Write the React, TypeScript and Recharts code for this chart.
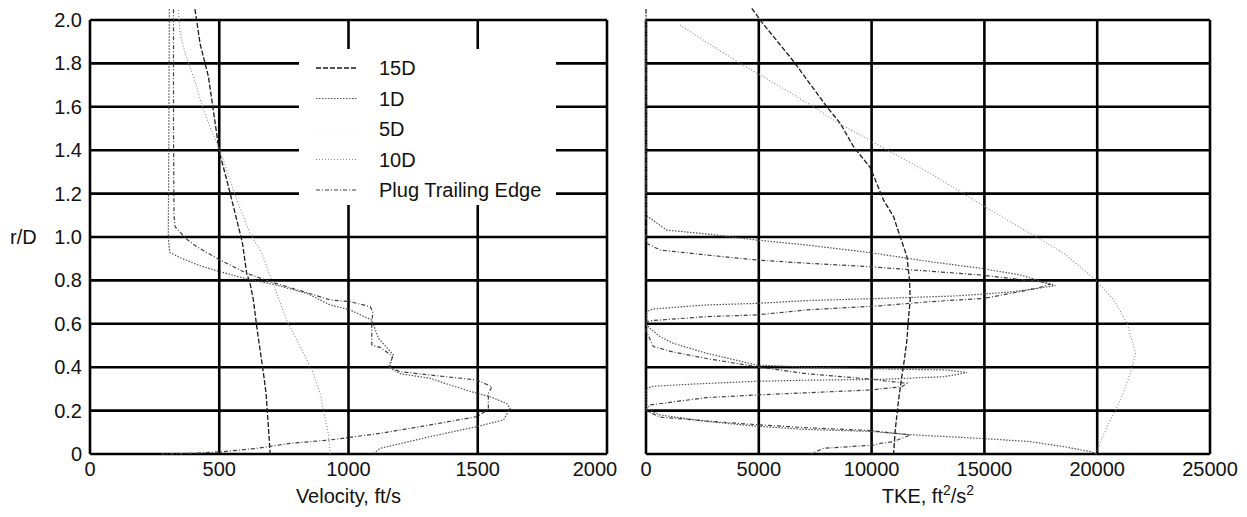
import React from 'react';
import { ScatterChart, Scatter, XAxis, YAxis, CartesianGrid, Legend, Label } from 'recharts';

// ---------- tick values ----------
const rTicks = [0, 0.2, 0.4, 0.6, 0.8, 1.0, 1.2, 1.4, 1.6, 1.8, 2.0];
const velTicks = [0, 500, 1000, 1500, 2000];
const tkeTicks = [0, 5000, 10000, 15000, 20000, 25000];

// ---------- series names ----------
const seriesNames = ['15D', '1D', '5D', '10D', 'Plug Trailing Edge'];

// ---------- Velocity profiles [velocity ft/s, r/D] ----------
const vel15D: [number, number][] = [
  [406, 2.05], [426, 1.89], [458, 1.74], [477, 1.585], [500, 1.393], [529, 1.263], [555, 1.14],
  [580, 1.02], [590, 0.97], [606, 0.833], [619, 0.787], [632, 0.71], [645, 0.587], [658, 0.479],
  [671, 0.372], [681, 0.28], [690, 0.126], [697, 0],
];
const vel10D: [number, number][] = [
  [342, 2.046], [348, 1.94], [368, 1.847], [400, 1.739], [439, 1.585], [464, 1.508], [497, 1.416],
  [516, 1.355], [568, 1.17], [619, 1.017], [665, 0.925], [703, 0.8], [722, 0.74], [761, 0.617],
  [800, 0.525], [839, 0.433], [864, 0.372], [890, 0.28], [903, 0.203], [922, 0.095], [929, 0],
];
const vel1D: [number, number][] = [
  [307, 2.05], [305, 1.5], [303, 1.0], [308, 0.93], [348, 0.905], [420, 0.87], [503, 0.84],
  [606, 0.807], [709, 0.782], [839, 0.74], [929, 0.687], [1006, 0.664], [1090, 0.617],
  [1116, 0.533], [1174, 0.456], [1155, 0.402], [1200, 0.37], [1316, 0.349], [1400, 0.315],
  [1496, 0.28], [1548, 0.264], [1612, 0.233], [1625, 0.21], [1600, 0.157], [1496, 0.126],
  [1316, 0.08], [1122, 0.026], [1096, 0],
];
const velPlug: [number, number][] = [
  [323, 2.05], [323, 1.5], [325, 1.1], [329, 1.047], [374, 0.99], [413, 0.955], [503, 0.894],
  [606, 0.833], [697, 0.794], [826, 0.748], [929, 0.71], [1006, 0.702], [1084, 0.679],
  [1094, 0.656], [1090, 0.6], [1090, 0.502], [1125, 0.49], [1170, 0.45], [1160, 0.4],
  [1200, 0.379], [1316, 0.364], [1496, 0.341], [1555, 0.31], [1541, 0.28], [1541, 0.205],
  [1496, 0.172], [1316, 0.134], [1122, 0.095], [929, 0.065], [774, 0.049], [645, 0.026],
  [516, 0.011], [400, 0.003], [270, 0],
];

// ---------- TKE profiles [TKE ft^2/s^2, r/D] ----------
const tke15D: [number, number][] = [
  [4690, 2.054], [5133, 1.99], [6537, 1.81], [8016, 1.6], [8608, 1.524], [9200, 1.416],
  [9939, 1.32], [10530, 1.17], [10973, 1.094], [11270, 1.0], [11566, 0.91], [11680, 0.8],
  [11713, 0.71], [11640, 0.633], [11566, 0.525], [11450, 0.433], [11344, 0.36], [11196, 0.249],
  [11048, 0.11], [10973, 0],
];
const tke10D: [number, number][] = [
  [1509, 1.977], [2800, 1.89], [4171, 1.8], [5946, 1.693], [7424, 1.6], [8600, 1.52],
  [9643, 1.462], [10826, 1.393], [12601, 1.293], [14080, 1.2], [15263, 1.124], [17038, 1.017],
  [18516, 0.925], [19847, 0.81], [20735, 0.71], [21327, 0.602], [21697, 0.464], [21475, 0.372],
  [21031, 0.249], [20440, 0.126], [19996, 0.018], [19950, 0],
];
const tke1D: [number, number][] = [
  [0, 2.05], [0, 1.1], [917, 1.032], [2692, 1.014], [4910, 0.986], [7130, 0.963], [9939, 0.928],
  [12601, 0.886], [14819, 0.856], [16594, 0.825], [18148, 0.776], [16298, 0.748], [14819, 0.736],
  [13636, 0.728], [10383, 0.717], [7130, 0.707], [4910, 0.694], [2692, 0.687], [300, 0.668],
  [30, 0.656], [0, 0.6], [177, 0.579], [621, 0.541], [1212, 0.51], [2692, 0.464], [4910, 0.41],
  [7130, 0.4], [9939, 0.393], [13340, 0.387], [14229, 0.375], [13193, 0.356], [10383, 0.344],
  [7130, 0.34], [4910, 0.335], [2000, 0.322], [300, 0.312], [0, 0.3], [0, 0.21], [621, 0.18],
  [2692, 0.15], [4910, 0.128], [7130, 0.113], [9939, 0.104], [11860, 0.088], [14819, 0.072],
  [17038, 0.057], [18516, 0.034], [19700, 0.011], [20000, 0],
];
const tkePlug: [number, number][] = [
  [0, 2.05], [0, 0.99], [30, 0.971], [621, 0.94], [2692, 0.917], [4910, 0.894], [7130, 0.879],
  [9939, 0.863], [14819, 0.825], [17482, 0.794], [17900, 0.782], [17334, 0.763], [14966, 0.717],
  [12601, 0.702], [10383, 0.683], [7130, 0.664], [4910, 0.641], [2692, 0.633], [300, 0.615],
  [30, 0.61], [0, 0.57], [325, 0.495], [1212, 0.47], [2692, 0.44], [4910, 0.402], [7130, 0.37],
  [9939, 0.345], [11566, 0.326], [11344, 0.31], [9939, 0.295], [4910, 0.272], [2692, 0.26],
  [177, 0.226], [0, 0.2], [621, 0.17], [2692, 0.152], [4910, 0.135], [7130, 0.121],
  [9939, 0.108], [11713, 0.088], [10973, 0.057], [10383, 0.049], [10087, 0.041], [7867, 0.026],
  [7300, 0],
];

// ---------- styles ----------
type Sty = { stroke: string; dash: string; width: number };
const styles: Record<string, Sty> = {
  '15D': { stroke: '#1a1a1a', dash: '5 2', width: 1.3 },
  '1D': { stroke: '#505050', dash: '1.5 1.5', width: 1.2 },
  '5D': { stroke: '#f2f2f2', dash: '1 3', width: 1 },
  '10D': { stroke: '#8c8c8c', dash: '1 2', width: 1.1 },
  'Plug Trailing Edge': { stroke: '#404040', dash: '4 2 1 2', width: 1.2 },
};

const FONT = '"Liberation Sans", Arial, Helvetica, sans-serif';

const toPts = (arr: [number, number][], key: string) => arr.map(([x, r]) => ({ [key]: x, r }));

const NoDot = () => <g />;

const lineProps = (name: string) => {
  const s = styles[name];
  return { stroke: s.stroke, strokeWidth: s.width, strokeDasharray: s.dash, fill: 'none' };
};

const LegendBox = () => (
  <svg width={257} height={156} style={{ display: 'block', background: '#fff' }}>
    {seriesNames.map((n, i) => {
      const y = 19 + i * 30.5;
      const s = styles[n];
      return (
        <g key={n}>
          <line x1={17} x2={59} y1={y} y2={y} stroke={s.stroke} strokeWidth={s.width} strokeDasharray={s.dash} />
          <text x={80} y={y} dominantBaseline="central" fontSize={20} fontFamily={FONT} fill="#111">
            {n}
          </text>
        </g>
      );
    })}
  </svg>
);

const VelTick = (props: any) => {
  const { x, y, payload } = props;
  const v = payload.value;
  const dx = v === 2000 ? -12 : 0;
  return (
    <text x={x + dx} y={y} dy="0.71em" textAnchor="middle" fontSize={20} fontFamily={FONT} fill="#111">
      {String(v)}
    </text>
  );
};

const TkeTick = (props: any) => {
  const { x, y, payload } = props;
  return (
    <text x={x} y={y} dy="0.71em" textAnchor="middle" fontSize={20} fontFamily={FONT} fill="#111">
      {String(payload.value)}
    </text>
  );
};

const RTick = (props: any) => {
  const { x, y, payload } = props;
  const v = payload.value as number;
  return (
    <text x={x} y={y} textAnchor="end" dominantBaseline="central" fontSize={20} fontFamily={FONT} fill="#111">
      {v === 0 ? '0' : v.toFixed(1)}
    </text>
  );
};

const RDLabel = (props: any) => {
  const vb = props.viewBox || {};
  return (
    <text x={(vb.x || 0) + 10} y={(vb.y || 0) + (vb.height || 0) / 2} dominantBaseline="central"
      fontSize={20} fontFamily={FONT} fill="#111">r/D</text>
  );
};

const TkeLabel = (props: any) => {
  const vb = props.viewBox || {};
  const cx = vb.x + vb.width / 2;
  const y = vb.y + 49;
  return (
    <text x={cx} y={y} textAnchor="middle" fontSize={20} fontFamily={FONT} fill="#111">
      TKE, ft<tspan dy={-8} fontSize={14}>2</tspan><tspan dy={8}>/s</tspan><tspan dy={-8} fontSize={14}>2</tspan>
    </text>
  );
};

const VelLabel = (props: any) => {
  const vb = props.viewBox || {};
  const cx = vb.x + vb.width / 2;
  const y = vb.y + 49;
  return (
    <text x={cx} y={y} textAnchor="middle" fontSize={20} fontFamily={FONT} fill="#111">
      Velocity, ft/s
    </text>
  );
};

const velSeries: [string, [number, number][]][] = [
  ['15D', vel15D], ['1D', vel1D], ['10D', vel10D], ['Plug Trailing Edge', velPlug],
];
const tkeSeries: [string, [number, number][]][] = [
  ['15D', tke15D], ['1D', tke1D], ['10D', tke10D], ['Plug Trailing Edge', tkePlug],
];

export default function App() {
  return (
    <div style={{ position: 'absolute', left: 0, top: 0, width: 1247, height: 517, background: '#fff', overflow: 'hidden' }}>
      <style>{'.recharts-wrapper g[clip-path]{clip-path:none !important}.recharts-surface{overflow:visible}'}</style>
      <div style={{ position: 'absolute', left: 0, top: 0 }}>
        <ScatterChart width={640} height={517} margin={{ top: 20, right: 33, bottom: 3, left: 0 }}>
          <CartesianGrid stroke="#000" strokeWidth={2.6} />
          <XAxis type="number" dataKey="v" domain={[0, 2000]} ticks={velTicks} allowDataOverflow
            tickLine={false} axisLine={false} height={60} tick={<VelTick />} interval={0}>
            <Label content={<VelLabel />} />
          </XAxis>
          <YAxis type="number" dataKey="r" domain={[0, 2]} ticks={rTicks} allowDataOverflow
            tickLine={false} axisLine={false} width={90} tick={<RTick />} interval={0}>
            <Label content={<RDLabel />} />
          </YAxis>
          {velSeries.map(([name, arr]) => (
            <Scatter key={name} name={name} data={toPts(arr, 'v')} line={lineProps(name)}
              shape={NoDot} isAnimationActive={false} />
          ))}
          <Legend layout="horizontal" verticalAlign="middle" align="center" content={<LegendBox />}
            wrapperStyle={{ left: 299, top: 49, width: 257, height: 156, position: 'absolute' }} />
        </ScatterChart>
      </div>
      <div style={{ position: 'absolute', left: 626, top: 0 }}>
        <ScatterChart width={621} height={517} margin={{ top: 20, right: 37, bottom: 3, left: 20 }}>
          <CartesianGrid stroke="#000" strokeWidth={2.6} />
          <XAxis type="number" dataKey="t" domain={[0, 25000]} ticks={tkeTicks} allowDataOverflow
            tickLine={false} axisLine={false} height={60} tick={<TkeTick />} interval={0}>
            <Label content={<TkeLabel />} />
          </XAxis>
          <YAxis type="number" dataKey="r" domain={[0, 2]} ticks={rTicks} allowDataOverflow hide />
          {tkeSeries.map(([name, arr]) => (
            <Scatter key={name} name={name} data={toPts(arr, 't')} line={lineProps(name)}
              shape={NoDot} isAnimationActive={false} />
          ))}
        </ScatterChart>
      </div>
    </div>
  );
}
